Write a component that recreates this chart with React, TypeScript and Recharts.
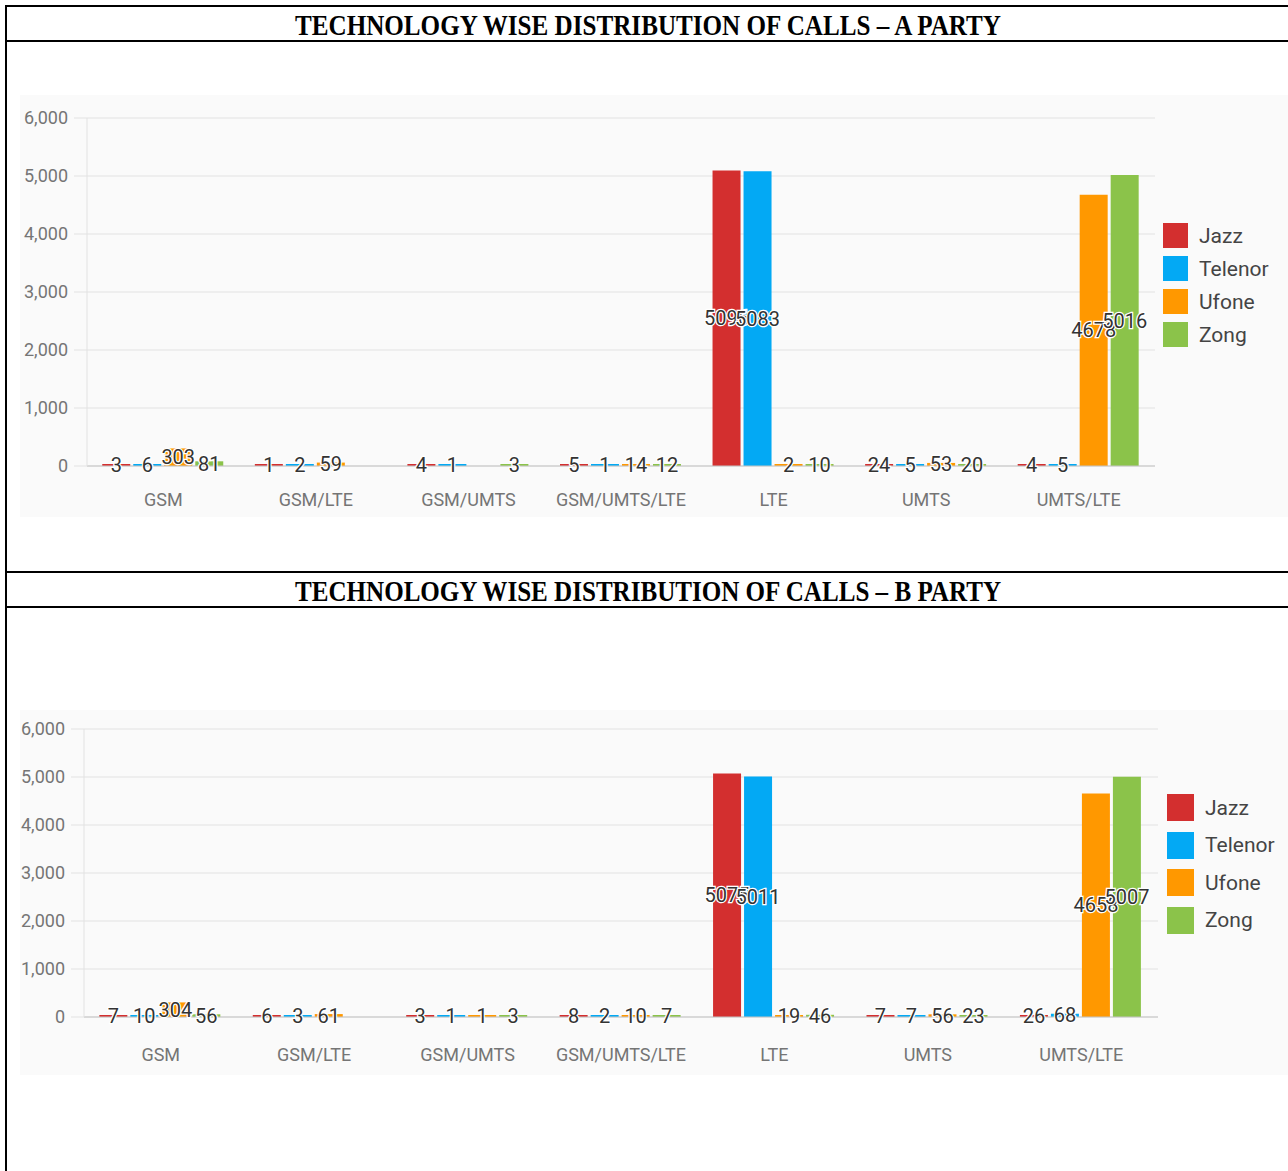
import React from 'react'
import { BarChart, Bar, XAxis, YAxis, CartesianGrid, Legend, LabelList } from 'recharts'

// technology categories shared by both charts
const technologies = ['GSM', 'GSM/LTE', 'GSM/UMTS', 'GSM/UMTS/LTE', 'LTE', 'UMTS', 'UMTS/LTE']

// A party
const aJazz = [3, 1, 4, 5, 5096, 24, 4]
const aTelenor = [6, 2, 1, 1, 5083, 5, 5]
const aUfone = [303, 59, null, 14, 2, 53, 4678]
const aZong = [81, null, 3, 12, 10, 20, 5016]

// B party
const bJazz = [7, 6, 3, 8, 5075, 7, 26]
const bTelenor = [10, 3, 1, 2, 5011, 7, 68]
const bUfone = [304, 61, 1, 10, 19, 56, 4658]
const bZong = [56, null, 3, 7, 46, 23, 5007]

const yTicks = [0, 1000, 2000, 3000, 4000, 5000, 6000]

const operators = [
  { key: 'Jazz', color: '#d32f2f' },
  { key: 'Telenor', color: '#03a9f4' },
  { key: 'Ufone', color: '#ff9800' },
  { key: 'Zong', color: '#8bc34a' },
]

const buildRows = (jazz, telenor, ufone, zong) =>
  technologies.map((t, i) => ({ name: t, Jazz: jazz[i], Telenor: telenor[i], Ufone: ufone[i], Zong: zong[i] }))

const dataA = buildRows(aJazz, aTelenor, aUfone, aZong)
const dataB = buildRows(bJazz, bTelenor, bUfone, bZong)

const font = 'Roboto, "Noto Sans", sans-serif'
const LEGEND_W = 130

function renderValue(props: any) {
  const { x, y, width, height, value } = props
  if (value == null) return null
  return (
    <text
      x={x + width / 2}
      y={y + height / 2}
      textAnchor="middle"
      dominantBaseline="central"
      fontFamily={font}
      fontSize={20}
      fill="#333"
      stroke="#fff"
      strokeWidth={2.5}
      paintOrder="stroke"
    >
      {value}
    </text>
  )
}

function makeLegend(rowH: number, box: number) {
  return function LegendBox({ payload }: any) {
    return (
      <div style={{ fontFamily: font }}>
        {(payload || []).map((p: any) => (
          <div key={p.value} style={{ display: 'flex', alignItems: 'center', height: rowH }}>
            <span style={{ width: box, height: box, background: p.color, display: 'inline-block', marginRight: 11 }} />
            <span style={{ fontSize: 21, color: '#444' }}>{p.value}</span>
          </div>
        ))}
      </div>
    )
  }
}

interface PartyChartProps {
  data: any[]
  width: number
  height: number
  margin: { top: number; right: number; bottom: number; left: number }
  xTickMargin: number
  legendTop: number
  legendRow: number
  legendBox: number
  legendLeft: number
}

function PartyChart({ data, width, height, margin, xTickMargin, legendTop, legendRow, legendBox, legendLeft }: PartyChartProps) {
  return (
    <BarChart width={width} height={height} data={data} margin={margin} barCategoryGap="10%" barGap={3}>
      <CartesianGrid stroke="#e2e2e2" vertical={false} />
      <XAxis
        dataKey="name"
        tick={{ fontSize: 18, fill: '#757575', fontFamily: font }}
        axisLine={{ stroke: '#c4c4c4' }}
        tickLine={false}
        tickSize={0}
        tickMargin={xTickMargin}
        height={30}
        interval={0}
      />
      <YAxis
        ticks={yTicks}
        domain={[0, 6000]}
        tickFormatter={(v) => v.toLocaleString('en-US')}
        tick={{ fontSize: 18, fill: '#757575', fontFamily: font }}
        axisLine={{ stroke: '#e2e2e2' }}
        tickLine={{ stroke: '#e2e2e2' }}
        tickSize={13}
        tickMargin={6}
        width={60}
      />
      <Legend
        layout="vertical"
        align="right"
        verticalAlign="top"
        content={makeLegend(legendRow, legendBox)}
        wrapperStyle={{ top: legendTop, left: legendLeft, width: LEGEND_W }}
      />
      {operators.map((o) => (
        <Bar
          key={o.key}
          dataKey={o.key}
          fill={o.color}
          isAnimationActive={false}
          minPointSize={(v: any) => (v == null || v === 0 ? 0 : 2)}
        >
          <LabelList dataKey={o.key} content={renderValue} />
        </Bar>
      ))}
    </BarChart>
  )
}

export default function App() {
  return (
    <div style={{ position: 'absolute', left: 0, top: 0, width: 1288, height: 1171, background: '#fff', overflow: 'hidden' }}>
      <div style={{ position: 'absolute', left: 20, top: 95, width: 1268, height: 422, background: '#fafafa' }}>
        <PartyChart
          data={dataA}
          width={1268}
          height={422}
          margin={{ top: 23, right: 133 - LEGEND_W, bottom: 21, left: 7 }}
          xTickMargin={27}
          legendTop={124}
          legendRow={33}
          legendBox={25}
          legendLeft={1143}
        />
      </div>
      <div style={{ position: 'absolute', left: 20, top: 710, width: 1268, height: 365, background: '#fafafa' }}>
        <PartyChart
          data={dataB}
          width={1268}
          height={365}
          margin={{ top: 19, right: 130 - LEGEND_W, bottom: 28, left: 4 }}
          xTickMargin={31}
          legendTop={79}
          legendRow={37.5}
          legendBox={27}
          legendLeft={1147}
        />
      </div>
      <svg width={1288} height={1171} style={{ position: 'absolute', left: 0, top: 0, pointerEvents: 'none' }}>
        <g stroke="#000" strokeWidth={2}>
          <line x1={5} y1={6} x2={1288} y2={6} />
          <line x1={6} y1={5} x2={6} y2={1171} />
          <line x1={5} y1={41} x2={1288} y2={41} />
          <line x1={5} y1={572} x2={1288} y2={572} />
          <line x1={5} y1={607} x2={1288} y2={607} />
        </g>
        <text x={295} y={35} fontFamily='"Liberation Serif", serif' fontWeight="bold" fontSize={30} textLength={706} lengthAdjust="spacingAndGlyphs" fill="#000">
          TECHNOLOGY WISE DISTRIBUTION OF CALLS – A PARTY
        </text>
        <text x={295} y={601} fontFamily='"Liberation Serif", serif' fontWeight="bold" fontSize={30} textLength={706} lengthAdjust="spacingAndGlyphs" fill="#000">
          TECHNOLOGY WISE DISTRIBUTION OF CALLS – B PARTY
        </text>
      </svg>
    </div>
  )
}
